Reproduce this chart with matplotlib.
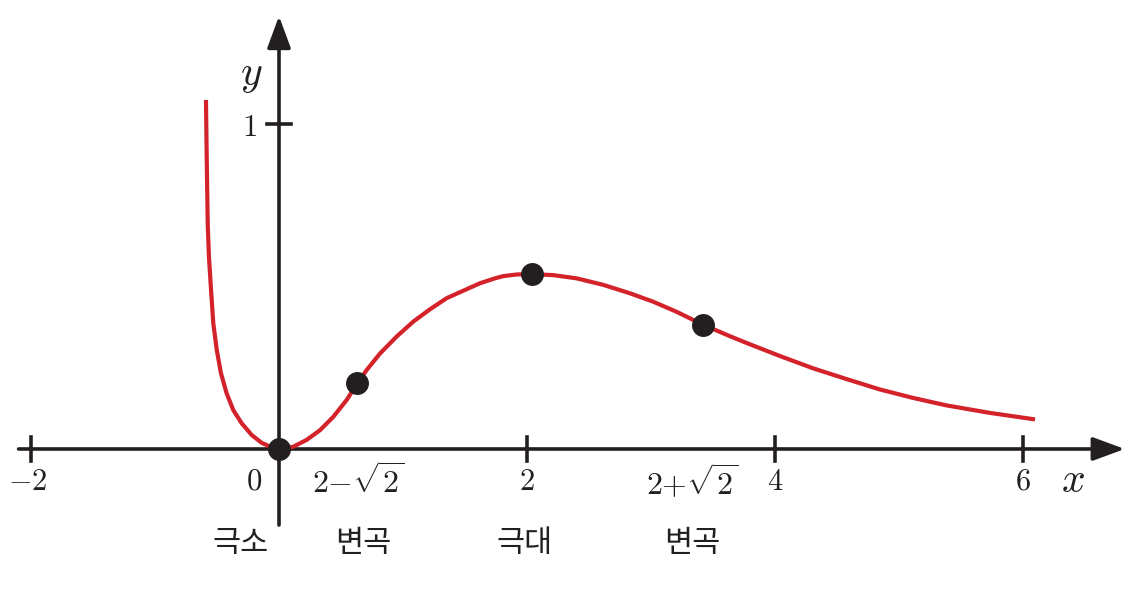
import matplotlib
matplotlib.use("Agg")
import matplotlib.pyplot as plt

plt.rcParams['mathtext.fontset'] = 'cm'

# curve points
curve_x = [-0.589, -0.583, -0.575, -0.565, -0.548, -0.530, -0.502, -0.468,
           -0.422, -0.369, -0.301, -0.220, -0.140, -0.059, 0.0,
           0.115, 0.223, 0.331, 0.438, 0.546, 0.631, 0.707, 0.815, 0.949,
           1.083, 1.218, 1.352, 1.486, 1.621, 1.741, 1.809, 1.920, 2.038,
           2.212, 2.401, 2.615, 2.831, 3.019, 3.207, 3.422, 3.637, 3.772,
           4.040, 4.309, 4.578, 4.847, 5.115, 5.385, 5.734, 6.097]
curve_y = [1.074, 0.899, 0.694, 0.592, 0.489, 0.387, 0.305, 0.233,
           0.171, 0.120, 0.079, 0.043, 0.019, 0.005, 0.0,
           0.007, 0.028, 0.058, 0.099, 0.151, 0.202, 0.243, 0.294, 0.346,
           0.392, 0.430, 0.464, 0.487, 0.510, 0.525, 0.532, 0.537, 0.538,
           0.535, 0.525, 0.505, 0.479, 0.453, 0.422, 0.382, 0.347, 0.326,
           0.286, 0.248, 0.215, 0.183, 0.157, 0.134, 0.111, 0.091]

# marked points: minimum, inflection, maximum, inflection
dot_x = [0.0, 0.631, 2.038, 3.422]
dot_y = [0.0, 0.202, 0.538, 0.382]

# axis ticks
xtick_vals = [-2, 2, 4, 6]
xtick_labels = [r'$-2$', r'$2$', r'$4$', r'$6$']
ytick_vals = [1]
ytick_labels = [r'$1$']

# labels under the special points
special_x = [0.64, 3.33]
special_labels = [r'$2{-}\sqrt{2}$', r'$2{+}\sqrt{2}$']
kor_x = [-0.31, 0.68, 1.98, 3.33]
kor_labels = ['극소', '변곡', '극대', '변곡']

red = '#d3222a'
dark = '#231f20'

fig = plt.figure(figsize=(11.32, 5.89), dpi=100)
ax = fig.add_axes([0, 0, 1, 1])
ax.set_xlim(-2.25, 6.879)
ax.set_ylim(-0.4308, 1.3815)
ax.axis('off')

# axes with arrow heads
arrow = dict(arrowstyle='-|>,head_length=1.95,head_width=0.72', lw=2.6,
             color=dark, mutation_scale=10, shrinkA=0, shrinkB=0)
ax.annotate('', xy=(6.82, 0), xytext=(-2.10, 0), arrowprops=arrow, zorder=2)
ax.annotate('', xy=(0, 1.332), xytext=(0, -0.234), arrowprops=arrow, zorder=2)

# ticks
for v in xtick_vals:
    ax.plot([v, v], [-0.037, 0.037], color=dark, lw=2.6, zorder=2)
for v in ytick_vals:
    ax.plot([-0.097, 0.097], [v, v], color=dark, lw=2.6, zorder=2)

# curve and dots
ax.plot(curve_x, curve_y, color=red, lw=3.0, solid_capstyle='butt',
        solid_joinstyle='round', zorder=3)
ax.plot(dot_x, dot_y, 'o', color=dark, markersize=15.5, zorder=4)

# tick labels
fs = 22
for v, t in zip(xtick_vals, xtick_labels):
    off = -0.03 if v < 0 else 0
    ax.text(v + off, -0.10, t, ha='center', va='center', fontsize=fs, color=dark)
ax.text(-0.2, -0.10, r'$0$', ha='center', va='center', fontsize=fs, color=dark)
for v, t in zip(ytick_vals, ytick_labels):
    ax.text(-0.235, v - 0.01, t, ha='center', va='center', fontsize=fs, color=dark)
for v, t in zip(special_x, special_labels):
    ax.text(v, -0.105, t, ha='center', va='center', fontsize=fs + 1, color=dark)

ax.text(6.40, -0.095, r'$x$', ha='center', va='center', fontsize=30, color=dark)
ax.text(-0.22, 1.155, r'$y$', ha='center', va='center', fontsize=30, color=dark)

for v, t in zip(kor_x, kor_labels):
    ax.text(v, -0.29, t, ha='center', va='center', fontsize=22, weight='light',
            family=['Noto Sans CJK KR', 'DejaVu Sans'], color=dark)

fig.savefig('out.png', dpi=100)
